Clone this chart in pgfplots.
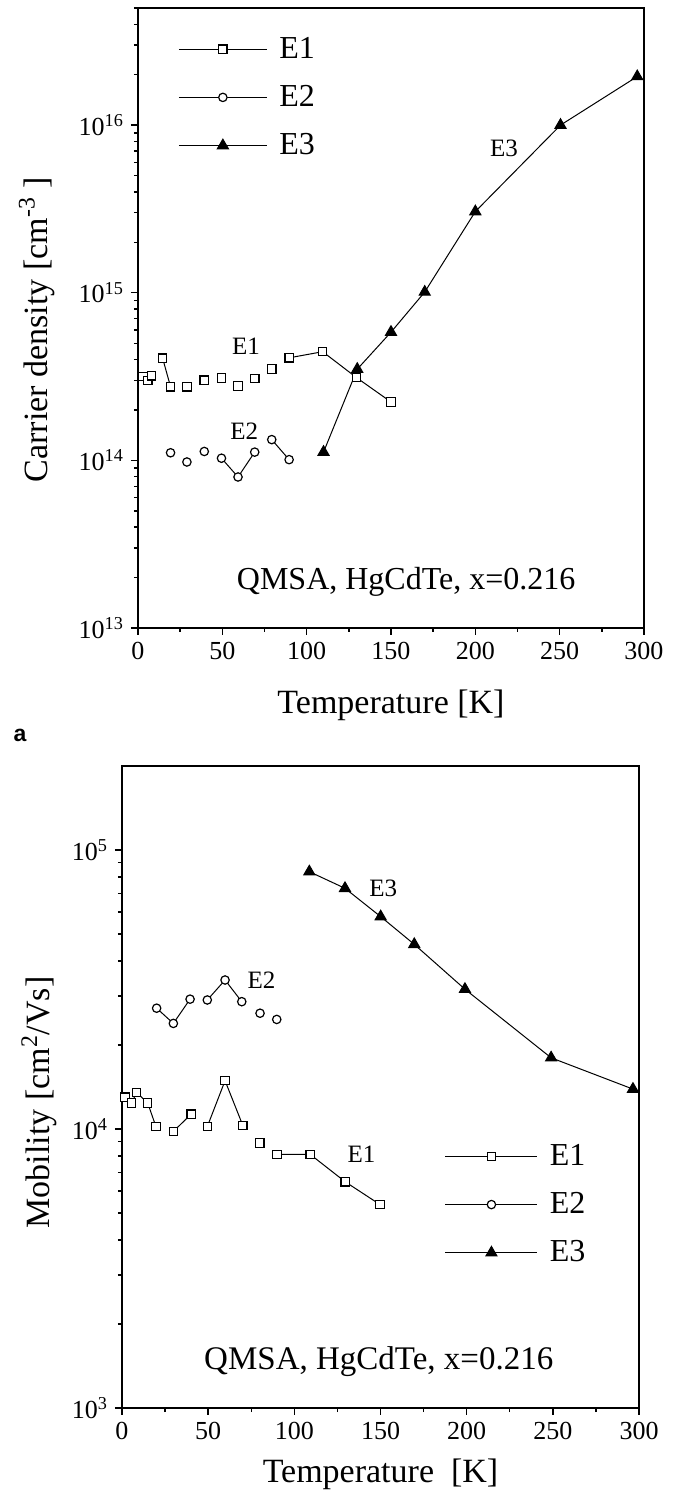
\documentclass[border=0pt]{standalone}
\usepackage{fontspec}
\setmainfont{Liberation Serif}
\newfontfamily\lsans{Liberation Sans}
\usepackage{pgfplots}
\pgfplotsset{compat=1.18}
\pgfplotsset{
  e1/.style={black, line width=0.5pt, mark=square*, mark size=2.1pt, mark options={line width=0.6pt, fill=white, solid}},
  e2/.style={black, line width=0.5pt, mark=*, mark size=2.1pt, mark options={line width=0.6pt, fill=white, solid}},
  e3/.style={black, line width=0.5pt, mark=triangle*, mark size=3.2pt, mark options={fill=black, solid}},
}
\begin{document}
\begin{tikzpicture}
\path[use as bounding box] (0,0) rectangle (339pt,-753pt);
% ---------- panel a ----------
\begin{axis}[
  scale only axis,
  xmin=0, xmax=300,
  xtick={0,50,...,300},
  minor x tick num=1,
  ymode=log, log basis y=10,
  tick align=outside,
  xtick pos=left, ytick pos=left,
  axis line style={line width=0.9pt},
  major tick length=3.5pt, minor tick length=2pt,
  every tick/.style={black, line width=0.7pt},
  tick label style={font=\fontsize{13}{13}\selectfont},
  /pgf/number format/assume math mode=true,
  yticklabel={10\textsuperscript{\pgfmathparse{int(round(\tick))}\pgfmathresult}},
  label style={font=\fontsize{17}{20}\selectfont},
  unbounded coords=jump,
  legend image code/.code={\draw[mark repeat=2,mark phase=2] plot coordinates {(0pt,0pt) (22pt,0pt) (44pt,0pt)};},
  legend style={draw=none, fill=none, font=\fontsize{16}{19}\selectfont, inner sep=0pt, row sep=8pt,
    /tikz/every odd column/.append style={column sep=4pt},
    at={(0.079,0.96)}, anchor=north west},
  legend cell align=left,
  at={(69pt,-4pt)}, anchor=north west,
  width=253pt, height=310pt,
  ymin=1e13, ymax=5e16,
  xlabel={Temperature [K]},
  ylabel={Carrier density [cm\textsuperscript{-3} ]},
  xlabel style={at={(axis description cs:0.5,-0.124)}, anchor=center},
  ylabel style={at={(axis description cs:-0.2,0.481)}, anchor=center},
]
\addplot[e1] coordinates {
 (3,3.16e14) (5.8,2.99e14) (8.1,3.20e14) (10,nan)
 (14.6,4.07e14) (19.3,2.75e14) (25,nan)
 (29,2.75e14) (35,nan)
 (39.3,3.01e14) (45,nan)
 (49.5,3.10e14) (55,nan)
 (59.3,2.78e14) (65,nan)
 (69.2,3.08e14) (75,nan)
 (79.3,3.51e14) (85,nan)
 (89.6,4.09e14) (109.5,4.45e14) (129.5,3.12e14) (150,2.23e14)
};
\addlegendentry{E1}
\addplot[e2] coordinates {
 (19.3,1.11e14) (25,nan)
 (29,9.78e13) (35,nan)
 (39.3,1.13e14) (45,nan)
 (49.5,1.03e14) (59.3,7.96e13) (69.2,1.12e14) (75,nan)
 (79.3,1.33e14) (89.6,1.01e14)
};
\addlegendentry{E2}
\addplot[e3] coordinates {
 (110,1.12e14) (130,3.5e14) (150,5.82e14) (170,1.01e15) (200,3.05e15) (250.5,1.0e16) (296,1.95e16)
};
\addlegendentry{E3}
\node[font=\fontsize{12.5}{14}\selectfont] at (axis cs:64,4.8e14) {E1};
\node[font=\fontsize{12.5}{14}\selectfont] at (axis cs:63,1.5e14) {E2};
\node[font=\fontsize{12.5}{14}\selectfont] at (axis cs:217,7.3e15) {E3};
\node[font=\fontsize{16}{18}\selectfont] at (axis cs:159,1.89e13) {QMSA, HgCdTe, x=0.216};
\end{axis}
\node[font=\lsans\bfseries\fontsize{11.5}{12}\selectfont] at (10pt,-367.5pt) {a};
% ---------- panel b ----------
\begin{axis}[
  scale only axis,
  xmin=0, xmax=300,
  xtick={0,50,...,300},
  minor x tick num=1,
  ymode=log, log basis y=10,
  tick align=outside,
  xtick pos=left, ytick pos=left,
  axis line style={line width=0.9pt},
  major tick length=3.5pt, minor tick length=2pt,
  every tick/.style={black, line width=0.7pt},
  tick label style={font=\fontsize{13}{13}\selectfont},
  /pgf/number format/assume math mode=true,
  yticklabel={10\textsuperscript{\pgfmathparse{int(round(\tick))}\pgfmathresult}},
  label style={font=\fontsize{17}{20}\selectfont},
  unbounded coords=jump,
  legend image code/.code={\draw[mark repeat=2,mark phase=2] plot coordinates {(0pt,0pt) (23pt,0pt) (46pt,0pt)};},
  legend style={draw=none, fill=none, font=\fontsize{16}{19}\selectfont, inner sep=0pt, row sep=8pt,
    /tikz/every odd column/.append style={column sep=4pt},
    at={(0.905,0.4175)}, anchor=north east},
  legend cell align=left,
  at={(61pt,-383pt)}, anchor=north west,
  width=258.5pt, height=321pt,
  ymin=1e3, ymax=2e5,
  xlabel={Temperature\ \ [K]},
  ylabel={Mobility [cm\textsuperscript{2}/Vs]},
  xlabel style={at={(axis description cs:0.5,-0.103)}, anchor=center},
  ylabel style={at={(axis description cs:-0.16,0.476)}, anchor=center},
]
\addplot[e1] coordinates {
 (1.7,1.30e4) (5.6,1.24e4) (8.5,1.35e4) (14.9,1.24e4) (19.7,1.02e4) (25,nan)
 (29.8,9.8e3) (40.1,1.13e4) (45,nan)
 (49.5,1.02e4) (59.8,1.49e4) (70.1,1.03e4) (75,nan)
 (80,8.91e3) (85,nan)
 (89.9,8.11e3) (109.2,8.11e3) (129.5,6.47e3) (149.7,5.36e3)
};
\addlegendentry{E1}
\addplot[e2] coordinates {
 (20.1,2.71e4) (29.8,2.39e4) (39.5,2.92e4) (45,nan)
 (49.5,2.90e4) (59.8,3.42e4) (69.5,2.86e4) (75,nan)
 (80.1,2.60e4) (85,nan)
 (89.8,2.47e4)
};
\addlegendentry{E2}
\addplot[e3] coordinates {
 (108.7,8.36e4) (129.4,7.29e4) (150.1,5.77e4) (169.6,4.59e4) (199,3.17e4) (249,1.80e4) (296.5,1.39e4)
};
\addlegendentry{E3}
\node[font=\fontsize{12.5}{14}\selectfont] at (axis cs:151.6,7.3e4) {E3};
\node[font=\fontsize{12.5}{14}\selectfont] at (axis cs:81,3.42e4) {E2};
\node[font=\fontsize{12.5}{14}\selectfont] at (axis cs:139,8.1e3) {E1};
\node[font=\fontsize{16.5}{18}\selectfont] at (axis cs:149,1.47e3) {QMSA, HgCdTe, x=0.216};
\end{axis}
\end{tikzpicture}
\end{document}
